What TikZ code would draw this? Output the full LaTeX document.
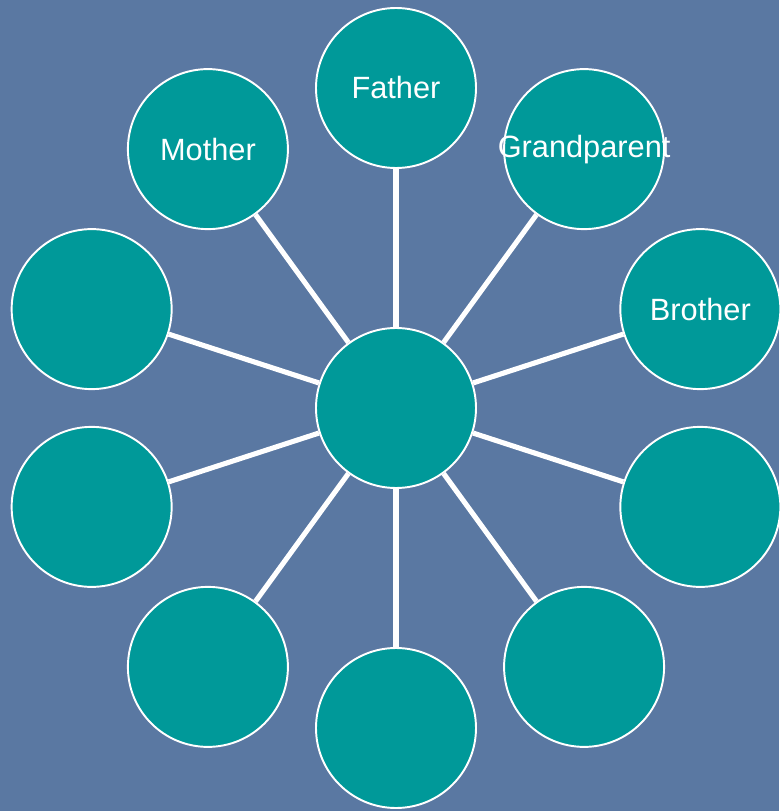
\documentclass[tikz,border=0pt]{standalone}
\usepackage{fontspec}
\setmainfont{Liberation Sans}
\definecolor{slide}{HTML}{5A78A2}
\definecolor{famteal}{HTML}{009999}

\begin{document}
\begin{tikzpicture}[line width=0.7pt,
  person/.style={circle,draw=white,line width=1.1pt,fill=famteal,
    minimum size=3.2cm,inner sep=0pt,text=white,
    font=\fontsize{17.5}{20}\selectfont},
  tie/.style={white,line width=2.9pt}]
\def\R{6.4}      % distance centre -> outer circles
% ---------- background ----------
\fill[slide] (-7.92,-8.06) rectangle (7.66,8.16);
% ---------- centre ----------
\node[person] (self) at (0,0) {};
% ---------- ring of ten relatives ----------
\foreach \a/\nm/\txt in {90/father/Father,126/mother/Mother,54/grandparent/Grandparent,
  18/brother/Brother,162/left1/{},198/left2/{},-18/right2/{},
  234/lowleft/{},-54/lowright/{},270/bottom/{}}{
  \node[person] (\nm) at (\a:\R) {\makebox[0pt]{\txt}};
  \draw[tie] (self) -- (\nm);
}
\end{tikzpicture}
\end{document}
